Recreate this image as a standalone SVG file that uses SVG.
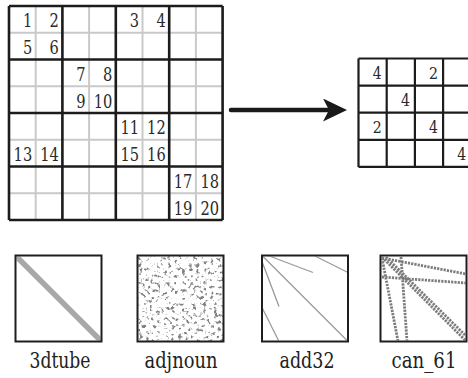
<svg xmlns="http://www.w3.org/2000/svg" width="468" height="378" viewBox="0 0 468 378">
  <style>
    .serif { font-family: 'DejaVu Serif', 'Liberation Serif', serif; }
    .thin { stroke: #c9c9c9; stroke-width: 2; fill: none; }
    .thick { stroke: #1c1c1c; stroke-width: 2.6; fill: none; }
    .grid2 { stroke: #1c1c1c; stroke-width: 2.2; fill: none; }
    .num { font-size: 18.5px; fill: #2a2a2a; text-anchor: end; }
    .num2 { font-size: 17px; fill: #2a2a2a; text-anchor: end; }
    .label { font-size: 21.5px; fill: #222; text-anchor: middle; }
    .frame { fill: none; stroke: #1e1e1e; stroke-width: 2; }
    .spy { fill: none; stroke: #7c7c7c; stroke-width: 2.8; stroke-dasharray: 2.2 1.1; }
    .ray { fill: none; stroke: #9a9a9a; stroke-width: 1.3; }
  </style>
  <defs>
    <marker id="head" viewBox="0 0 24 23" markerWidth="24" markerHeight="23" markerUnits="userSpaceOnUse" refX="6" refY="11.5" orient="auto">
      <path d="M0,0 L24,11.5 L0,23 L6,11.5 Z" fill="#1a1a1a"/>
    </marker>
    <filter id="speckle" x="0" y="0" width="1" height="1" color-interpolation-filters="sRGB">
      <feTurbulence type="fractalNoise" baseFrequency="0.28" numOctaves="2" seed="11"/>
      <feColorMatrix type="matrix" values="0 0 0 0 0.5  0 0 0 0 0.5  0 0 0 0 0.5  6 0 0 0 -3.35"/>
      <feGaussianBlur stdDeviation="0.4"/>
    </filter>
    <filter id="soft" x="-5%" y="-5%" width="110%" height="110%">
      <feGaussianBlur stdDeviation="0.4"/>
    </filter>
    <clipPath id="clipCan"><rect x="381.5" y="256.5" width="84" height="84"/></clipPath>
    <clipPath id="clipAdd"><rect x="263" y="256.5" width="84" height="84"/></clipPath>
    <clipPath id="clipTube"><rect x="16.5" y="256.5" width="84" height="84"/></clipPath>
  </defs>

  <rect width="468" height="378" fill="#fff"/>

  <!-- 8x8 block grid with numbered entries -->
  <g id="block-grid" class="serif">
    <path class="thin" d="M35.7,6V220M89.1,6V220M142.5,6V220M195.9,6V220M9,32.75H222.6M9,86.25H222.6M9,139.75H222.6M9,193.25H222.6"/>
    <path class="thick" d="M9,6V220M62.4,6V220M115.8,6V220M169.2,6V220M222.6,6V220M9,6H222.6M9,59.5H222.6M9,113H222.6M9,166.5H222.6M9,220H222.6"/>
    <text class="num" x="32.2" y="27.3" textLength="9.3" lengthAdjust="spacingAndGlyphs">1</text>
    <text class="num" x="58.9" y="27.3" textLength="9.3" lengthAdjust="spacingAndGlyphs">2</text>
    <text class="num" x="139" y="27.3" textLength="9.3" lengthAdjust="spacingAndGlyphs">3</text>
    <text class="num" x="165.7" y="27.3" textLength="9.3" lengthAdjust="spacingAndGlyphs">4</text>
    <text class="num" x="32.2" y="54" textLength="9.3" lengthAdjust="spacingAndGlyphs">5</text>
    <text class="num" x="58.9" y="54" textLength="9.3" lengthAdjust="spacingAndGlyphs">6</text>
    <text class="num" x="85.6" y="80.8" textLength="9.3" lengthAdjust="spacingAndGlyphs">7</text>
    <text class="num" x="112.3" y="80.8" textLength="9.3" lengthAdjust="spacingAndGlyphs">8</text>
    <text class="num" x="85.6" y="107.5" textLength="9.3" lengthAdjust="spacingAndGlyphs">9</text>
    <text class="num" x="112.3" y="107.5" textLength="18.6" lengthAdjust="spacingAndGlyphs">10</text>
    <text class="num" x="139" y="134.3" textLength="18.6" lengthAdjust="spacingAndGlyphs">11</text>
    <text class="num" x="165.7" y="134.3" textLength="18.6" lengthAdjust="spacingAndGlyphs">12</text>
    <text class="num" x="32.2" y="161" textLength="18.6" lengthAdjust="spacingAndGlyphs">13</text>
    <text class="num" x="58.9" y="161" textLength="18.6" lengthAdjust="spacingAndGlyphs">14</text>
    <text class="num" x="139" y="161" textLength="18.6" lengthAdjust="spacingAndGlyphs">15</text>
    <text class="num" x="165.7" y="161" textLength="18.6" lengthAdjust="spacingAndGlyphs">16</text>
    <text class="num" x="192.4" y="187.8" textLength="18.6" lengthAdjust="spacingAndGlyphs">17</text>
    <text class="num" x="219.1" y="187.8" textLength="18.6" lengthAdjust="spacingAndGlyphs">18</text>
    <text class="num" x="192.4" y="214.5" textLength="18.6" lengthAdjust="spacingAndGlyphs">19</text>
    <text class="num" x="219.1" y="214.5" textLength="18.6" lengthAdjust="spacingAndGlyphs">20</text>
  </g>

  <!-- reduced 4x4 grid of block counts -->
  <g id="count-grid" class="serif">
    <path class="grid2" d="M358.5,58.5V166.9M386.7,58.5V166.9M414.9,58.5V166.9M443.1,58.5V166.9M471.3,58.5V166.9M358.5,58.5H471.3M358.5,85.6H471.3M358.5,112.7H471.3M358.5,139.8H471.3M358.5,166.9H471.3"/>
    <text class="num2" x="381.7" y="78.5" textLength="9" lengthAdjust="spacingAndGlyphs">4</text>
    <text class="num2" x="438.1" y="78.5" textLength="9" lengthAdjust="spacingAndGlyphs">2</text>
    <text class="num2" x="409.9" y="105.6" textLength="9" lengthAdjust="spacingAndGlyphs">4</text>
    <text class="num2" x="381.7" y="132.7" textLength="9" lengthAdjust="spacingAndGlyphs">2</text>
    <text class="num2" x="438.1" y="132.7" textLength="9" lengthAdjust="spacingAndGlyphs">4</text>
    <text class="num2" x="466.3" y="159.8" textLength="9" lengthAdjust="spacingAndGlyphs">4</text>
  </g>

  <g id="connectors">
    <path d="M231,110 H329" stroke="#1a1a1a" stroke-width="4.5" stroke-linecap="round" fill="none" marker-end="url(#head)"/>
  </g>

  <!-- sparsity pattern thumbnails -->
  <g id="thumb-3dtube" class="serif">
    <g clip-path="url(#clipTube)" filter="url(#soft)">
      <path d="M15.5,255.5 L101.5,341.5" stroke="#a8a8a8" stroke-width="5.5" fill="none"/>
    </g>
    <rect class="frame" x="15.5" y="255.5" width="86" height="86"/>
    <text class="label" x="60" y="368" textLength="61" lengthAdjust="spacingAndGlyphs">3dtube</text>
  </g>

  <g id="thumb-adjnoun" class="serif">
    <rect x="138.5" y="256.5" width="84" height="84" fill="#fff" filter="url(#speckle)"/>
    <rect class="frame" x="137.5" y="255.5" width="86" height="86"/>
    <text class="label" x="181" y="368" textLength="73" lengthAdjust="spacingAndGlyphs">adjnoun</text>
  </g>

  <g id="thumb-add32" class="serif">
    <g clip-path="url(#clipAdd)" filter="url(#soft)">
      <path class="ray" d="M262,255.5 L348,341.5M268,255.5 L313,272.5M262,261.5 L279,306.5M314,255.5 L348,272.5M262,307.5 L279,341.5"/>
    </g>
    <rect class="frame" x="262" y="255.5" width="86" height="86"/>
    <text class="label" x="307" y="368" textLength="55" lengthAdjust="spacingAndGlyphs">add32</text>
  </g>

  <g id="thumb-can_61" class="serif">
    <g clip-path="url(#clipCan)" filter="url(#soft)">
      <path class="spy" d="M382,257 L466,341M386,257 L466,336M382,258 L466,274M382,277 L466,283M382,258 L398,341M401,257 L407,341"/>
    </g>
    <rect class="frame" x="380.5" y="255.5" width="86" height="86"/>
    <text class="label" x="424" y="368" textLength="65" lengthAdjust="spacingAndGlyphs">can_61</text>
  </g>
</svg>
